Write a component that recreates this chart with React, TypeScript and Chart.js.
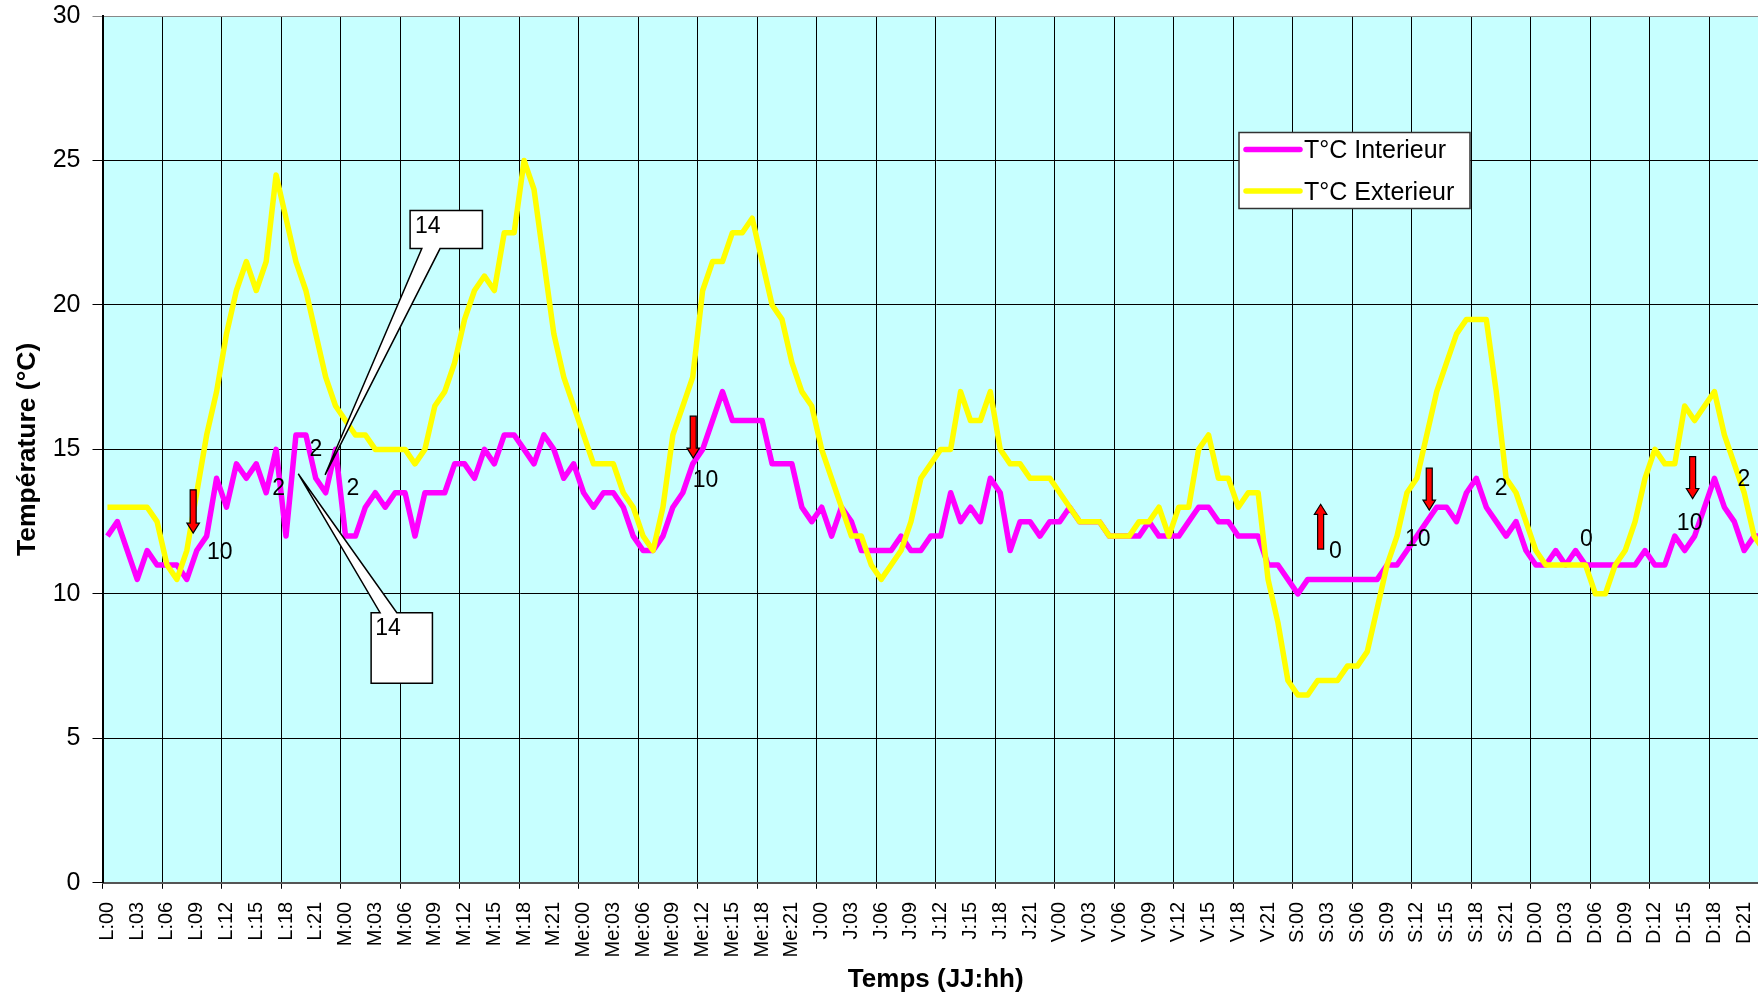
import React, { useEffect, useRef } from 'react';
import { Chart, registerables } from 'chart.js';

Chart.register(...registerables);

const FONT = '"Liberation Sans", Arial, Helvetica, sans-serif';

// ---- categories / tick labels ----
const DAYS = ['L', 'M', 'Me', 'J', 'V', 'S', 'D'];
const HOURS = ['00', '01', '02', '03', '04', '05', '06', '07', '08', '09', '10', '11',
  '12', '13', '14', '15', '16', '17', '18', '19', '20', '21', '22', '23'];
const CATEGORIES = DAYS.flatMap((d) => HOURS.map((h) => `${d}:${h}`));
const LABEL_STEP = 3;
const GRID_STEP = 6;

const Y_MIN = 0;
const Y_MAX = 30;
const Y_STEP = 5;

const SERIES_NAMES = ['T°C Interieur', 'T°C Exterieur'];

// ---- series values (one per hour) ----
const INTERIEUR = [
  12, 12.5, 11.5, 10.5, 11.5, 11, 11, 11, 10.5, 11.5, 12, 14, 13, 14.5, 14, 14.5, 13.5, 15, 12, 15.5, 15.5, 14, 13.5, 15,
  12, 12, 13, 13.5, 13, 13.5, 13.5, 12, 13.5, 13.5, 13.5, 14.5, 14.5, 14, 15, 14.5, 15.5, 15.5, 15, 14.5, 15.5, 15, 14, 14.5,
  13.5, 13, 13.5, 13.5, 13, 12, 11.5, 11.5, 12, 13, 13.5, 14.5, 15, 16, 17, 16, 16, 16, 16, 14.5, 14.5, 14.5, 13, 12.5,
  13, 12, 13, 12.5, 11.5, 11.5, 11.5, 11.5, 12, 11.5, 11.5, 12, 12, 13.5, 12.5, 13, 12.5, 14, 13.5, 11.5, 12.5, 12.5, 12, 12.5,
  12.5, 13, 12.5, 12.5, 12.5, 12, 12, 12, 12, 12.5, 12, 12, 12, 12.5, 13, 13, 12.5, 12.5, 12, 12, 12, 11, 11, 10.5,
  10, 10.5, 10.5, 10.5, 10.5, 10.5, 10.5, 10.5, 10.5, 11, 11, 11.5, 12, 12.5, 13, 13, 12.5, 13.5, 14, 13, 12.5, 12, 12.5, 11.5,
  11, 11, 11.5, 11, 11.5, 11, 11, 11, 11, 11, 11, 11.5, 11, 11, 12, 11.5, 12, 13, 14, 13, 12.5, 11.5, 12, 12,
];

const EXTERIEUR = [
  13, 13, 13, 13, 13, 12.5, 11, 10.5, 11.5, 13.5, 15.5, 17, 19, 20.5, 21.5, 20.5, 21.5, 24.5, 23, 21.5, 20.5, 19, 17.5, 16.5,
  16, 15.5, 15.5, 15, 15, 15, 15, 14.5, 15, 16.5, 17, 18, 19.5, 20.5, 21, 20.5, 22.5, 22.5, 25, 24, 21.5, 19, 17.5, 16.5,
  15.5, 14.5, 14.5, 14.5, 13.5, 13, 12, 11.5, 13, 15.5, 16.5, 17.5, 20.5, 21.5, 21.5, 22.5, 22.5, 23, 21.5, 20, 19.5, 18, 17, 16.5,
  15, 14, 13, 12, 12, 11, 10.5, 11, 11.5, 12.5, 14, 14.5, 15, 15, 17, 16, 16, 17, 15, 14.5, 14.5, 14, 14, 14,
  13.5, 13, 12.5, 12.5, 12.5, 12, 12, 12, 12.5, 12.5, 13, 12, 13, 13, 15, 15.5, 14, 14, 13, 13.5, 13.5, 10.5, 9, 7,
  6.5, 6.5, 7, 7, 7, 7.5, 7.5, 8, 9.5, 11, 12, 13.5, 14, 15.5, 17, 18, 19, 19.5, 19.5, 19.5, 17, 14, 13.5, 12.5,
  11.5, 11, 11, 11, 11, 11, 10, 10, 11, 11.5, 12.5, 14, 15, 14.5, 14.5, 16.5, 16, 16.5, 17, 15.5, 14.5, 13.5, 12, 11.5,
];

// ---- annotations, in data units (category index, °C) ----
const ARROWS = [
  { i: 8.64, from: 13.6, to: 12.1 },
  { i: 59.05, from: 16.15, to: 14.7 },
  { i: 122.3, from: 11.55, to: 13.1 },
  { i: 133.25, from: 14.35, to: 12.9 },
  { i: 159.8, from: 14.75, to: 13.3 },
];

const NOTES = [
  { i: 11.32, v: 11.44, t: '10' },
  { i: 17.26, v: 13.65, t: '2' },
  { i: 21.0, v: 14.98, t: '2' },
  { i: 24.74, v: 13.65, t: '2' },
  { i: 60.3, v: 13.93, t: '10' },
  { i: 123.8, v: 11.47, t: '0' },
  { i: 132.1, v: 11.89, t: '10' },
  { i: 140.5, v: 13.65, t: '2' },
  { i: 149.1, v: 11.89, t: '0' },
  { i: 159.5, v: 12.44, t: '10' },
  { i: 164.97, v: 13.94, t: '2' },
];

const CALLOUTS = [
  { t: '14', left: 30.51, right: 37.8, top: 23.27, bottom: 21.95, b1: 31.69, b2: 33.53, tipI: 21.94, tipV: 14.12, side: 'bottom', ti: 31.0, tv: 22.7 },
  { t: '14', left: 26.58, right: 32.76, top: 9.35, bottom: 6.91, b1: 27.48, b2: 29.17, tipI: 19.24, tipV: 14.15, side: 'top', ti: 26.99, tv: 8.78 },
];

const COLORS = { interieur: '#FF00FF', exterieur: '#FFFF00', plot: '#C7FFFF', arrow: '#FF0000' };

const plotBg = {
  id: 'plotBg',
  beforeDraw(chart: any) {
    const { ctx, chartArea: a } = chart;
    ctx.save();
    ctx.fillStyle = COLORS.plot;
    ctx.fillRect(a.left, a.top, a.right - a.left, a.bottom - a.top);
    ctx.restore();
  },
};

function drawArrow(ctx: CanvasRenderingContext2D, x: number, y0: number, y1: number) {
  const dir = Math.sign(y1 - y0);
  const sw = 6, hw = 12.5, hl = 10;
  const yb = y1 - dir * hl;
  ctx.beginPath();
  ctx.moveTo(x - sw / 2, y0);
  ctx.lineTo(x + sw / 2, y0);
  ctx.lineTo(x + sw / 2, yb);
  ctx.lineTo(x + hw / 2, yb);
  ctx.lineTo(x, y1);
  ctx.lineTo(x - hw / 2, yb);
  ctx.lineTo(x - sw / 2, yb);
  ctx.closePath();
  ctx.fillStyle = COLORS.arrow;
  ctx.fill();
  ctx.lineWidth = 1.2;
  ctx.strokeStyle = '#000';
  ctx.stroke();
}

const annotations = {
  id: 'annots',
  afterDatasetsDraw(chart: any) {
    const { ctx } = chart;
    const xs = chart.scales.x;
    const ys = chart.scales.y;
    const px = (i: number) => xs.getPixelForValue(i);
    const py = (v: number) => ys.getPixelForValue(v);
    ctx.save();
    ARROWS.forEach((a) => drawArrow(ctx, px(a.i), py(a.from), py(a.to)));
    ctx.fillStyle = '#000';
    ctx.font = `23px ${FONT}`;
    ctx.textAlign = 'center';
    ctx.textBaseline = 'middle';
    NOTES.forEach((n) => ctx.fillText(n.t, px(n.i), py(n.v)));
    CALLOUTS.forEach((c) => {
      const l = px(c.left), r = px(c.right), t = py(c.top), b = py(c.bottom);
      const b1 = px(c.b1), b2 = px(c.b2), tx = px(c.tipI), ty = py(c.tipV);
      ctx.beginPath();
      if (c.side === 'bottom') {
        ctx.moveTo(l, t); ctx.lineTo(r, t); ctx.lineTo(r, b); ctx.lineTo(b2, b);
        ctx.lineTo(tx, ty); ctx.lineTo(b1, b); ctx.lineTo(l, b);
      } else {
        ctx.moveTo(l, t); ctx.lineTo(b1, t); ctx.lineTo(tx, ty); ctx.lineTo(b2, t);
        ctx.lineTo(r, t); ctx.lineTo(r, b); ctx.lineTo(l, b);
      }
      ctx.closePath();
      ctx.fillStyle = '#fff';
      ctx.fill();
      ctx.lineWidth = 1.5;
      ctx.strokeStyle = '#000';
      ctx.stroke();
      ctx.fillStyle = '#000';
      ctx.font = `23px ${FONT}`;
      ctx.textAlign = 'left';
      ctx.textBaseline = 'middle';
      ctx.fillText(c.t, px(c.ti), py(c.tv));
    });
    ctx.restore();
  },
};

const legendBox = {
  id: 'legendBox',
  afterDraw(chart: any) {
    const { ctx } = chart;
    const x = 1239, y = 132.5, w = 231, h = 76;
    ctx.save();
    ctx.fillStyle = '#fff';
    ctx.fillRect(x, y, w, h);
    ctx.lineWidth = 1.5;
    ctx.strokeStyle = '#333';
    ctx.strokeRect(x, y, w, h);
    const cols = [COLORS.interieur, COLORS.exterieur];
    SERIES_NAMES.forEach((name, k) => {
      const ly = y + 17 + k * 41.5;
      ctx.beginPath();
      ctx.moveTo(x + 7, ly);
      ctx.lineTo(x + 61, ly);
      ctx.lineWidth = 5.5;
      ctx.lineCap = 'round';
      ctx.strokeStyle = cols[k];
      ctx.stroke();
      ctx.fillStyle = '#000';
      ctx.font = `25px ${FONT}`;
      ctx.textAlign = 'left';
      ctx.textBaseline = 'middle';
      ctx.fillText(name, x + 65, ly + 2);
    });
    ctx.restore();
  },
};

export default function App() {
  const canvasRef = useRef<HTMLCanvasElement | null>(null);

  useEffect(() => {
    const canvas = canvasRef.current;
    if (!canvas) return;
    const chart = new Chart(canvas, {
      type: 'line',
      data: {
        labels: CATEGORIES,
        datasets: [
          {
            label: SERIES_NAMES[0],
            data: INTERIEUR,
            borderColor: COLORS.interieur,
            backgroundColor: COLORS.interieur,
            borderWidth: 5.5,
            pointRadius: 0,
            tension: 0,
            borderJoinStyle: 'round',
            order: 1,
          },
          {
            label: SERIES_NAMES[1],
            data: EXTERIEUR,
            borderColor: COLORS.exterieur,
            backgroundColor: COLORS.exterieur,
            borderWidth: 5.5,
            pointRadius: 0,
            tension: 0,
            borderJoinStyle: 'round',
            order: 0,
          },
        ],
      },
      options: {
        animation: false,
        responsive: false,
        layout: { padding: { top: 16, left: 0, right: 0, bottom: 0 } },
        plugins: { legend: { display: false }, tooltip: { enabled: false } },
        scales: {
          x: {
            type: 'category',
            offset: true,
            grid: {
              offset: true,
              color: (c: any) => (c.index % GRID_STEP === 0 ? '#000' : 'rgba(0,0,0,0)'),
              lineWidth: 1,
              tickLength: 6,
            },
            border: { color: '#555', width: 2 },
            ticks: {
              autoSkip: false,
              maxRotation: 90,
              minRotation: 90,
              color: '#000',
              padding: 13,
              font: { family: FONT, size: 20 },
              callback: (_v: any, i: number) => (i % LABEL_STEP === 0 ? CATEGORIES[i] : ''),
            },
            title: {
              display: true,
              text: 'Temps (JJ:hh)',
              color: '#000',
              font: { family: FONT, size: 26, weight: 'bold' },
              padding: { top: 0, bottom: 2 },
            },
            afterFit: (s: any) => {
              s.height = 114.2;
              s.paddingLeft = 0;
              s.paddingRight = 0;
            },
          },
          y: {
            min: Y_MIN,
            max: Y_MAX,
            ticks: {
              stepSize: Y_STEP,
              color: '#000',
              padding: 12,
              font: { family: FONT, size: 25 },
            },
            grid: {
              color: (c: any) => (c.tick && c.tick.value === Y_MAX ? '#888' : '#000'),
              lineWidth: 1,
              tickLength: 10,
            },
            border: { color: '#000', width: 2 },
            title: {
              display: true,
              text: 'Température (°C)',
              color: '#000',
              font: { family: FONT, size: 26.5, weight: 'bold' },
              padding: { top: 12, bottom: 0 },
            },
            afterFit: (s: any) => {
              s.width = 102.5;
              s.paddingTop = 0;
              s.paddingBottom = 0;
            },
          },
        },
      },
      plugins: [plotBg, annotations, legendBox],
    } as any);
    return () => chart.destroy();
  }, []);

  return (
    <div
      style={{
        position: 'fixed',
        left: 0,
        top: 0,
        width: 1758,
        height: 997,
        overflow: 'hidden',
        background: '#fff',
      }}
    >
      <canvas ref={canvasRef} width={1769} height={997} style={{ display: 'block' }} />
    </div>
  );
}
